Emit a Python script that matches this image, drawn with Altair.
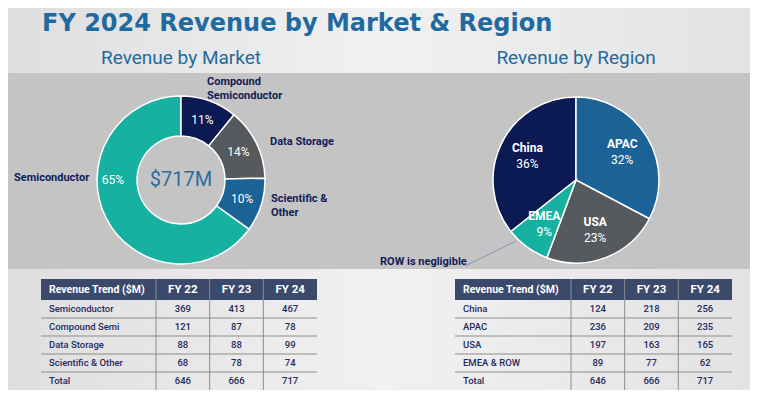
import altair as alt
import pandas as pd

# ---------------- data ----------------
markets = ["Semiconductor", "Compound Semi", "Data Storage", "Scientific & Other"]
market_fy22 = [369, 121, 88, 68]
market_fy23 = [413, 87, 88, 78]
market_fy24 = [467, 78, 99, 74]
market_total = [646, 666, 717]
market_pct = [65, 11, 14, 10]
market_order = [4, 1, 2, 3]

regions = ["China", "APAC", "USA", "EMEA & ROW"]
region_labels = ["China", "APAC", "USA", "EMEA"]
region_fy22 = [124, 236, 197, 89]
region_fy23 = [218, 209, 163, 77]
region_fy24 = [256, 235, 165, 62]
region_total = [646, 666, 717]
region_pct = [36, 32, 23, 9]
region_order = [4, 1, 2, 3]

years = ["FY 22", "FY 23", "FY 24"]
center_label = "$717M"

# ---------------- style ----------------
NAVY = "#0b1a52"
BLUE = "#1b6297"
GRAY = "#56595d"
TEAL = "#17b1a2"
market_colors = [TEAL, NAVY, GRAY, BLUE]
region_colors = [NAVY, BLUE, GRAY, TEAL]
TITLE_BLUE = "#1f6aa0"
LABEL_NAVY = "#101c57"
TABLE_TEXT = "#1e2b5e"
HEADER_BG = "#3b4a6b"
LINE = "#8c8c8c"
FONT = "Roboto"
OFF = 8  # page margin


def p(v):
    return v - OFF


dummy = pd.DataFrame({"a": [0]})


def label(text, x, y, size, color, weight="normal", align="left", font=FONT, line_height=None,
          baseline="middle"):
    kw = dict(text=text, fontSize=size, color=color, fontWeight=weight, align=align,
              baseline=baseline, font=font)
    if line_height is not None:
        kw["lineHeight"] = line_height
    return alt.Chart(dummy).mark_text(**kw).encode(x=alt.value(p(x)), y=alt.value(p(y)))


# ---------------- background ----------------
bg = alt.Chart(dummy).mark_rect(
    color=alt.Gradient(
        gradient="linear",
        stops=[alt.GradientStop(color="#dedede", offset=0),
               alt.GradientStop(color="#f1f1f1", offset=0.5),
               alt.GradientStop(color="#e2e2e2", offset=1)],
        x1=0, x2=1, y1=0, y2=0,
    )
).encode(x=alt.value(-OFF), x2=alt.value(760), y=alt.value(-OFF), y2=alt.value(400))

band = alt.Chart(dummy).mark_rect(color="#c4c4c4").encode(
    x=alt.value(-OFF), x2=alt.value(760), y=alt.value(p(73)), y2=alt.value(p(269))
)

titles = [
    label("FY 2024 Revenue by Market & Region", 42, 31, 24, TITLE_BLUE, "bold",
          font="DejaVu Sans", baseline="alphabetic"),
    label("Revenue by Market", 181, 58, 19, TITLE_BLUE, "normal", align="center"),
    label("Revenue by Region", 576, 58, 19, TITLE_BLUE, "normal", align="center"),
]

# ---------------- donut ----------------
mdf = pd.DataFrame({
    "market": markets,
    "value": market_fy24,
    "pct": [f"{v}%" for v in market_pct],
    "order": market_order,
})
DCX, DCY = p(181), p(180)
theta_m = alt.Theta("value:Q", stack=True)
donut_arc = alt.Chart(mdf).mark_arc(innerRadius=44, outerRadius=84, stroke="white", strokeWidth=1.5).encode(
    theta=theta_m,
    color=alt.Color("market:N", scale=alt.Scale(domain=markets, range=market_colors), legend=None),
    order=alt.Order("order:Q"),
    x=alt.value(DCX), y=alt.value(DCY),
)
donut_pct = alt.Chart(mdf).transform_filter(alt.datum.market != "Semiconductor").mark_text(
    radius=64, color="white", fontSize=12, font=FONT
).encode(theta=theta_m, order=alt.Order("order:Q"), text="pct:N", x=alt.value(DCX), y=alt.value(DCY))
semi_pct = alt.Chart(mdf).transform_filter(alt.datum.market == "Semiconductor").mark_text(
    color="white", fontSize=12, font=FONT
).encode(text="pct:N", x=alt.value(p(113)), y=alt.value(p(180)))
center = label(center_label, 181, 180, 20, "#2e6e9e", "normal", align="center")
donut = alt.layer(donut_arc, donut_pct, semi_pct, center)

donut_labels = [
    label(["Compound", "Semiconductor"], 207, 82, 11, LABEL_NAVY, "bold", line_height=14),
    label("Data Storage", 270, 142, 11, LABEL_NAVY, "bold"),
    label(["Scientific &", "Other"], 271, 199, 11, LABEL_NAVY, "bold", line_height=14),
    label("Semiconductor", 14, 178, 11, LABEL_NAVY, "bold"),
]

# ---------------- pie ----------------
rdf = pd.DataFrame({
    "region": regions,
    "name": region_labels,
    "value": region_fy24,
    "pct": [f"{v}%" for v in region_pct],
    "order": region_order,
})
PCX, PCY = p(576), p(180)
theta_r = alt.Theta("value:Q", stack=True)
pie_arc = alt.Chart(rdf).mark_arc(outerRadius=83, stroke="white", strokeWidth=1.5).encode(
    theta=theta_r,
    color=alt.Color("region:N", scale=alt.Scale(domain=regions, range=region_colors), legend=None),
    order=alt.Order("order:Q"),
    x=alt.value(PCX), y=alt.value(PCY),
)
pie_name = alt.Chart(rdf).mark_text(radius=54, dy=-8, color="white", fontSize=12, fontWeight="bold", font=FONT).encode(
    theta=theta_r, order=alt.Order("order:Q"), text="name:N", x=alt.value(PCX), y=alt.value(PCY))
pie_pct = alt.Chart(rdf).mark_text(radius=54, dy=8, color="white", fontSize=12, font=FONT).encode(
    theta=theta_r, order=alt.Order("order:Q"), text="pct:N", x=alt.value(PCX), y=alt.value(PCY))
pie = alt.layer(pie_arc, pie_name, pie_pct)

row_note = label("ROW is negligible", 380, 262, 11, LABEL_NAVY, "bold")
leader = alt.Chart(dummy).mark_rule(color="#8496b5", strokeWidth=1).encode(
    x=alt.value(p(465)), y=alt.value(p(266)), x2=alt.value(p(516)), y2=alt.value(p(241))
)

# ---------------- tables ----------------
HEAD_TOP, HEAD_BOT, TAB_BOT = 279, 300, 390


def make_table(names, f22, f23, f24, totals, x0, xc, xend):
    rows = names + ["Total"]
    cells = []
    for i, r in enumerate(rows):
        vals = [f22[i], f23[i], f24[i]] if i < len(names) else totals
        for y, v in zip(years, vals):
            cells.append({"row": r, "col": y, "val": v})
    cdf = pd.DataFrame(cells)
    rdf_ = pd.DataFrame({"row": rows})
    ydf = pd.DataFrame({"col": years})
    xs = alt.Scale(domain=years, range=[p(xc), p(xend)], paddingInner=0, paddingOuter=0)
    ys = alt.Scale(domain=rows, range=[p(HEAD_BOT), p(TAB_BOT)], paddingInner=0, paddingOuter=0)
    hy = (HEAD_TOP + HEAD_BOT) / 2

    header = alt.Chart(dummy).mark_rect(color=HEADER_BG).encode(
        x=alt.value(p(x0)), x2=alt.value(p(xend)), y=alt.value(p(HEAD_TOP)), y2=alt.value(p(HEAD_BOT)))
    head_title = label("Revenue Trend ($M)", x0 + 8, hy, 10.5, "white", "bold")
    head_years = alt.Chart(ydf).mark_text(color="white", fontSize=11.5, fontWeight="bold", font=FONT).encode(
        x=alt.X("col:N", scale=xs, axis=None), y=alt.value(p(hy)), text="col:N")
    vlines = alt.Chart(ydf).mark_rule(color=LINE, strokeWidth=1).encode(
        x=alt.X("col:N", bandPosition=0, scale=xs, axis=None), y=alt.value(p(HEAD_TOP)), y2=alt.value(p(TAB_BOT)))
    hlines = alt.Chart(pd.DataFrame({"row": rows[1:]})).mark_rule(color=LINE, strokeWidth=1).encode(
        y=alt.Y("row:N", bandPosition=0, scale=ys, axis=None), x=alt.value(p(x0)), x2=alt.value(p(xend)))
    row_names = alt.Chart(rdf_).mark_text(align="left", color=TABLE_TEXT, fontSize=9.5, font=FONT, fontWeight=500).encode(
        x=alt.value(p(x0 + 8)), y=alt.Y("row:N", scale=ys, axis=None), text="row:N")
    nums = alt.Chart(cdf).mark_text(color=TABLE_TEXT, fontSize=9.5, font=FONT, fontWeight=500).encode(
        x=alt.X("col:N", scale=xs, axis=None), y=alt.Y("row:N", scale=ys, axis=None), text="val:Q")
    return alt.layer(header, vlines, hlines, head_title, head_years, row_names, nums)


table_m = make_table(markets, market_fy22, market_fy23, market_fy24, market_total, 41, 156, 317)
table_r = make_table(regions, region_fy22, region_fy23, region_fy24, region_total, 455, 571, 732)

chart = alt.layer(
    bg, band, *titles, donut, *donut_labels, pie, leader, row_note, table_m, table_r
).resolve_scale(
    x="independent", y="independent", theta="independent", color="independent"
).properties(
    width=742, height=382, padding=0, autosize="none", background="#ffffff"
).configure_view(stroke=None)

chart.save("out.html", embed_options={"renderer": "svg", "actions": False})
